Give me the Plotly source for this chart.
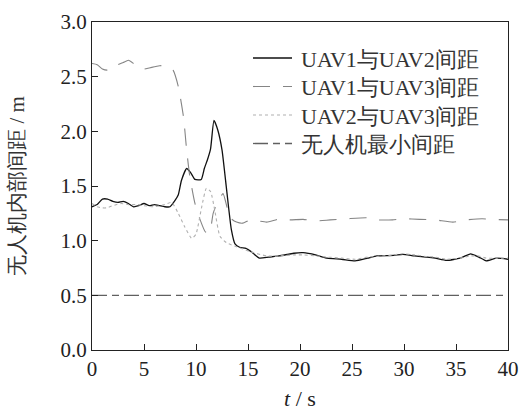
import plotly.graph_objects as go

t12 = [0,0.5,1.0,1.5,2.0,2.5,3.0,3.5,4.0,4.5,5.0,5.5,6.0,6.5,7.0,7.5,8.0,8.3,8.6,9.1,
       9.5,9.9,10.5,10.8,11.1,11.4,11.73,12.1,12.5,12.95,13.4,13.75,14.2,14.8,15.3,16.1,17,18,19.4,20.3,
       21.5,22.6,24,25.3,26.5,27.4,29,29.9,31,32.2,33,34.1,35.4,36.4,37.2,37.9,38.9,40]
d12 = [1.31,1.33,1.38,1.38,1.36,1.35,1.36,1.34,1.31,1.32,1.34,1.32,1.33,1.32,1.31,1.31,1.37,1.42,1.55,1.66,
       1.62,1.56,1.56,1.66,1.74,1.84,2.10,2.01,1.83,1.46,1.10,0.97,0.94,0.93,0.90,0.84,0.85,0.86,0.885,0.89,
       0.87,0.84,0.83,0.815,0.84,0.86,0.865,0.875,0.86,0.85,0.84,0.82,0.84,0.88,0.85,0.815,0.84,0.83]

t13 = [0,0.5,1.0,1.5,2.0,2.5,3.0,3.5,4.0,4.5,5.0,5.5,6.0,6.5,7.0,7.5,7.8,8.3,8.8,9.1,
       9.4,9.9,10.4,10.9,11.3,11.65,12.1,12.6,13.0,13.4,13.9,14.5,15.2,16.0,16.8,18.1,19,20.3,21.5,22.9,
       24.5,26.4,27.5,28.9,30,31.5,33,34.7,36,37.5,38.5,40]
d13 = [2.62,2.61,2.57,2.56,2.60,2.61,2.63,2.65,2.62,2.58,2.57,2.58,2.59,2.60,2.60,2.59,2.56,2.41,2.13,1.83,
       1.59,1.34,1.19,1.08,1.07,1.25,1.36,1.43,1.30,1.20,1.17,1.16,1.19,1.18,1.17,1.20,1.19,1.195,1.18,1.19,
       1.20,1.21,1.19,1.19,1.20,1.195,1.19,1.17,1.19,1.20,1.195,1.19]

t23 = [0,0.5,1.0,1.4,2.0,2.8,3.5,4.4,5.0,6.0,7.0,7.66,8.3,8.9,9.6,10.0,10.55,11.0,11.4,11.8,
       12.3,12.95,13.9,15.2,16.8,18,19.4,20.3,21.5,22.6,24,25.3,26.5,27.4,29,29.9,31,32.2,33,34.1,
       35.4,36.4,37.2,37.9,38.9,40]
d23 = [1.34,1.31,1.30,1.30,1.32,1.34,1.33,1.33,1.32,1.31,1.33,1.35,1.25,1.13,1.02,1.06,1.31,1.48,1.45,1.28,
       1.04,0.98,0.945,0.90,0.86,0.86,0.87,0.87,0.86,0.85,0.84,0.83,0.85,0.855,0.87,0.88,0.87,0.855,0.85,0.83,
       0.84,0.86,0.86,0.84,0.84,0.84]

tmin = [0, 40]
dmin = [0.5, 0.5]

names = ["UAV1与UAV2间距", "UAV1与UAV3间距", "UAV2与UAV3间距", "无人机最小间距"]
xticks = [0, 5, 10, 15, 20, 25, 30, 35, 40]
yticks = [0.0, 0.5, 1.0, 1.5, 2.0, 2.5, 3.0]

FONT = "Liberation Serif, Times New Roman, serif"

styles = [
    dict(color="#111111", width=1.3, dash="solid"),
    dict(color="#858585", width=1.1, dash="17px,13px"),
    dict(color="#b0b0b0", width=1.1, dash="3px,3px"),
    dict(color="#606060", width=1.3, dash="15px,5px,7px,5px"),
]
series = [(t12, d12), (t13, d13), (t23, d23), (tmin, dmin)]

fig = go.Figure()
for i, ((tx, dy), st) in enumerate(zip(series, styles)):
    line = dict(st)
    if i < 3:
        line.update(shape="spline", smoothing=0.5)
    fig.add_trace(go.Scatter(x=tx, y=dy, name=names[i], mode="lines", line=line, showlegend=False))

# legend drawn in paper coordinates (plot area: x 92..508 px, y 22..350 px)
PL, PW, PT, PH = 92, 416, 22, 328
def px_x(p): return (p - PL) / PW
def px_y(p): return (PT + PH - p) / PH
row_y = [58, 86.5, 115, 143.5]
for i, name in enumerate(names):
    st = styles[i]
    fig.add_shape(type="line", xref="paper", yref="paper",
                  x0=px_x(253), x1=px_x(292), y0=px_y(row_y[i]), y1=px_y(row_y[i]),
                  line=dict(color=st["color"], width=st["width"], dash=st["dash"]))
    fig.add_annotation(xref="paper", yref="paper", x=px_x(299), y=px_y(row_y[i] + 1),
                       xanchor="left", yanchor="middle", text=name, showarrow=False,
                       font=dict(family=FONT, size=22, color="#333333"))

axis_common = dict(showline=True, mirror=True, linecolor="#222222", linewidth=1.3,
                   ticks="inside", ticklen=6, tickcolor="#222222", showgrid=False, zeroline=False,
                   automargin=False, tickfont=dict(family=FONT, size=21, color="#222222"))

fig.update_xaxes(range=[0, 40], tickvals=xticks, ticktext=[str(v) for v in xticks],
                 title=dict(text="<i>t</i> / s", font=dict(family=FONT, size=22, color="#222222"), standoff=10),
                 **axis_common)
fig.update_yaxes(range=[0, 3.0], tickvals=yticks, ticktext=[f"{v:.1f}" for v in yticks],
                 title=dict(text="无人机内部间距 / m", font=dict(family=FONT, size=21, color="#333333"), standoff=30),
                 **axis_common)

fig.update_layout(
    width=522, height=412,
    margin=dict(l=92, r=14, t=22, b=62),
    paper_bgcolor="white", plot_bgcolor="white",
    font=dict(family=FONT, color="#222222"),
    showlegend=False,
)

fig.write_html("out.html")
